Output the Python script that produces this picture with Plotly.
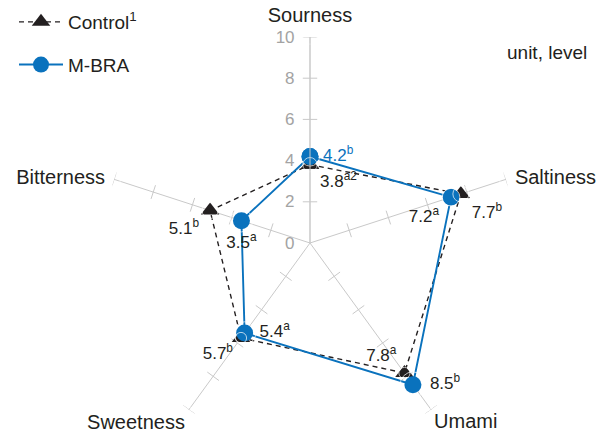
import math
import plotly.graph_objects as go

# ---- data ----
categories = ["Sourness", "Saltiness", "Umami", "Sweetness", "Bitterness"]
control = [3.8, 7.7, 7.8, 5.7, 5.1]
mbra = [4.2, 7.2, 8.5, 5.4, 3.5]
control_sig = ["a2", "b", "a", "b", "b"]
mbra_sig = ["b", "a", "b", "a", "a"]
radial_ticks = [0, 2, 4, 6, 8, 10]
r_max = 10

BLUE = "#0a72bd"
DARK = "#231f20"
GRID = "#c9c9c9"
TICKTXT = "#a3a3a3"
FONT = "Liberation Sans, Arial, sans-serif"

W, H = 606, 441
ML, MR, MT, MB = 0, 2, 29, 0
PW, PH = W - ML - MR, H - MT - MB


def gap_size(px):
    """marker size whose text offset in plotly equals px"""
    return max((px - 1) * 1.6, 0.1)


step = 360 / len(categories)
angles = [i * step for i in range(len(categories))]
theta_closed = angles + [angles[0]]

fig = go.Figure()

# cross ticks on every spoke
half = 0.35
tr, tt = [], []
for a in angles:
    for v in radial_ticks[1:]:
        d = math.degrees(math.atan(half / v))
        rr = math.hypot(v, half)
        tr += [rr, rr, None]
        tt += [a - d, a + d, None]
fig.add_trace(go.Scatterpolar(r=tr, theta=tt, mode="lines", line=dict(color=GRID, width=1),
                              hoverinfo="skip", showlegend=False))

# category labels just outside the spokes
fig.add_trace(go.Scatterpolar(
    r=[r_max] * len(categories), theta=angles, mode="markers+text", text=categories,
    textposition=["top center", "middle right", "bottom right", "bottom left", "middle left"],
    marker=dict(size=[gap_size(g) for g in [10, 9, 3, 4, 9]], color="rgba(0,0,0,0)"),
    textfont=dict(size=20, color=DARK, family=FONT),
    showlegend=False, hoverinfo="skip", cliponaxis=False))

fig.add_trace(go.Scatterpolar(
    r=control + [control[0]], theta=theta_closed, mode="lines+markers", name="Control<sup>1</sup>",
    line=dict(color=DARK, width=1.4, dash="5px,4px"),
    marker=dict(symbol="triangle-up", size=16, color=DARK), legendgroup="c", cliponaxis=False))
fig.add_trace(go.Scatterpolar(
    r=mbra + [mbra[0]], theta=theta_closed, mode="lines+markers", name="M-BRA",
    line=dict(color=BLUE, width=1.9),
    marker=dict(symbol="circle", size=17, color=BLUE), legendgroup="m", cliponaxis=False))

# value labels
fig.add_trace(go.Scatterpolar(
    r=control, theta=angles, mode="markers+text",
    text=[f"{v}<sup>{s}</sup>" for v, s in zip(control, control_sig)],
    textposition=["bottom right", "bottom right", "top left", "bottom left", "bottom left"],
    marker=dict(size=[gap_size(g) for g in [10, 11, 8, 8, 11]], color="rgba(0,0,0,0)"),
    textfont=dict(size=17, color=DARK, family=FONT), showlegend=False, hoverinfo="skip", cliponaxis=False))
fig.add_trace(go.Scatterpolar(
    r=mbra, theta=angles, mode="markers+text",
    text=[f"{v}<sup>{s}</sup>" for v, s in zip(mbra, mbra_sig)],
    textposition=["middle right", "bottom left", "middle right", "middle right", "bottom center"],
    marker=dict(size=[gap_size(g) for g in [13, 12, 17, 15, 15]], color="rgba(0,0,0,0)"),
    textfont=dict(size=17, color=[BLUE, DARK, DARK, DARK, DARK], family=FONT),
    showlegend=False, hoverinfo="skip", cliponaxis=False))

fig.update_layout(
    width=W, height=H,
    margin=dict(l=ML, r=MR, t=MT, b=MB, autoexpand=False),
    paper_bgcolor="white",
    font=dict(family=FONT, color=DARK),
    polar=dict(
        bgcolor="white",
        gridshape="linear",
        angularaxis=dict(rotation=90, direction="clockwise", tickmode="array",
                         tickvals=angles, ticktext=[""] * len(categories), showline=False,
                         showgrid=True, gridcolor=GRID, gridwidth=1, ticks="",
                         showticklabels=False),
        radialaxis=dict(range=[0, r_max], angle=90, tickvals=radial_ticks, showgrid=False,
                        showline=True, linecolor=GRID, linewidth=1, ticks="outside",
                        ticklen=9, tickcolor="rgba(0,0,0,0)", tickangle=90,
                        side="counterclockwise",
                        tickfont=dict(size=17, color=TICKTXT, family=FONT)),
    ),
    legend=dict(xref="paper", yref="paper", x=6 / PW, y=1 + (MT + 5) / PH,
                xanchor="left", yanchor="top", font=dict(size=19, color=DARK, family=FONT),
                tracegroupgap=15, itemwidth=44, bgcolor="rgba(0,0,0,0)"),
    annotations=[dict(text="unit, level", xref="paper", yref="paper",
                      x=(581 - ML) / PW, y=1 - (45 - MT) / PH,
                      xanchor="right", yanchor="middle",
                      showarrow=False, font=dict(size=19, color=DARK, family=FONT))],
)

fig.write_html("out.html")
